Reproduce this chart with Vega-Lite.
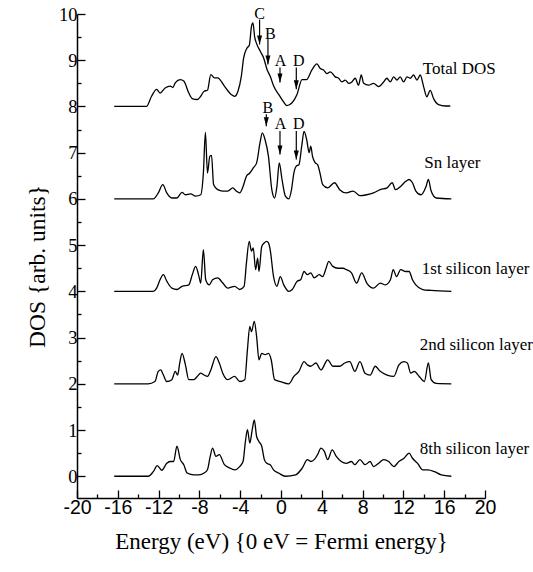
{
  "$schema": "https://vega.github.io/schema/vega-lite/v6.json",
  "width": 408,
  "height": 484,
  "autosize": {"type": "none"},
  "padding": {"left": 77, "top": 14, "right": 48, "bottom": 74},
  "background": "white",
  "config": {
    "view": {"stroke": null},
    "axis": {"grid": false, "domainColor": "black", "tickColor": "black", "labelColor": "black", "titleColor": "black", "titleFontWeight": "normal"}
  },
  "datasets": {
    "dos": [
      {"s":"Total DOS","e":-16.35,"v":8.0},{"s":"Total DOS","e":-13.19,"v":8.0},{"s":"Total DOS","e":-12.69,"v":8.22},{"s":"Total DOS","e":-12.19,"v":8.37},{"s":"Total DOS","e":-11.86,"v":8.29},{"s":"Total DOS","e":-11.36,"v":8.40},{"s":"Total DOS","e":-10.86,"v":8.44},{"s":"Total DOS","e":-10.6,"v":8.41},{"s":"Total DOS","e":-10.37,"v":8.51},{"s":"Total DOS","e":-9.87,"v":8.58},{"s":"Total DOS","e":-9.53,"v":8.55},{"s":"Total DOS","e":-9.04,"v":8.29},{"s":"Total DOS","e":-8.70,"v":8.17},{"s":"Total DOS","e":-8.21,"v":8.15},{"s":"Total DOS","e":-7.87,"v":8.22},{"s":"Total DOS","e":-7.54,"v":8.33},{"s":"Total DOS","e":-7.21,"v":8.35},{"s":"Total DOS","e":-6.88,"v":8.69},{"s":"Total DOS","e":-6.54,"v":8.62},{"s":"Total DOS","e":-6.21,"v":8.62},{"s":"Total DOS","e":-5.55,"v":8.44},{"s":"Total DOS","e":-4.88,"v":8.26},{"s":"Total DOS","e":-4.55,"v":8.22},{"s":"Total DOS","e":-4.22,"v":8.33},{"s":"Total DOS","e":-3.89,"v":8.65},{"s":"Total DOS","e":-3.67,"v":9.04},{"s":"Total DOS","e":-3.34,"v":9.26},{"s":"Total DOS","e":-3.1,"v":9.33},{"s":"Total DOS","e":-2.89,"v":9.74},{"s":"Total DOS","e":-2.75,"v":9.81},{"s":"Total DOS","e":-2.58,"v":9.5},{"s":"Total DOS","e":-2.41,"v":9.37},{"s":"Total DOS","e":-2.02,"v":9.19},{"s":"Total DOS","e":-1.7,"v":9.05},{"s":"Total DOS","e":-1.37,"v":8.8},{"s":"Total DOS","e":-1.05,"v":8.65},{"s":"Total DOS","e":-0.72,"v":8.44},{"s":"Total DOS","e":-0.23,"v":8.26},{"s":"Total DOS","e":0.10,"v":8.15},{"s":"Total DOS","e":0.59,"v":8.02},{"s":"Total DOS","e":1.08,"v":8.08},{"s":"Total DOS","e":1.57,"v":8.26},{"s":"Total DOS","e":2.06,"v":8.58},{"s":"Total DOS","e":2.5,"v":8.58},{"s":"Total DOS","e":3.03,"v":8.79},{"s":"Total DOS","e":3.52,"v":8.92},{"s":"Total DOS","e":3.85,"v":8.82},{"s":"Total DOS","e":4.17,"v":8.79},{"s":"Total DOS","e":4.5,"v":8.71},{"s":"Total DOS","e":4.83,"v":8.75},{"s":"Total DOS","e":5.32,"v":8.64},{"s":"Total DOS","e":5.65,"v":8.61},{"s":"Total DOS","e":5.97,"v":8.53},{"s":"Total DOS","e":6.3,"v":8.57},{"s":"Total DOS","e":6.63,"v":8.5},{"s":"Total DOS","e":6.95,"v":8.53},{"s":"Total DOS","e":7.28,"v":8.61},{"s":"Total DOS","e":7.6,"v":8.46},{"s":"Total DOS","e":7.87,"v":8.68},{"s":"Total DOS","e":8.1,"v":8.5},{"s":"Total DOS","e":8.59,"v":8.46},{"s":"Total DOS","e":9.08,"v":8.5},{"s":"Total DOS","e":9.57,"v":8.43},{"s":"Total DOS","e":10.06,"v":8.53},{"s":"Total DOS","e":10.38,"v":8.61},{"s":"Total DOS","e":10.71,"v":8.53},{"s":"Total DOS","e":11.04,"v":8.64},{"s":"Total DOS","e":11.37,"v":8.57},{"s":"Total DOS","e":11.69,"v":8.64},{"s":"Total DOS","e":12.02,"v":8.53},{"s":"Total DOS","e":12.35,"v":8.64},{"s":"Total DOS","e":12.67,"v":8.61},{"s":"Total DOS","e":13.0,"v":8.68},{"s":"Total DOS","e":13.33,"v":8.57},{"s":"Total DOS","e":13.65,"v":8.68},{"s":"Total DOS","e":13.98,"v":8.43},{"s":"Total DOS","e":14.3,"v":8.21},{"s":"Total DOS","e":14.63,"v":8.35},{"s":"Total DOS","e":14.96,"v":8.17},{"s":"Total DOS","e":15.45,"v":8.04},{"s":"Total DOS","e":16.1,"v":8.01},{"s":"Total DOS","e":16.6,"v":8.01},
      {"s":"Sn","e":-16.35,"v":6.0},{"s":"Sn","e":-12.52,"v":6.0},{"s":"Sn","e":-12.03,"v":6.13},{"s":"Sn","e":-11.59,"v":6.31},{"s":"Sn","e":-11.2,"v":6.13},{"s":"Sn","e":-10.7,"v":6.02},{"s":"Sn","e":-10.2,"v":6.02},{"s":"Sn","e":-9.7,"v":6.14},{"s":"Sn","e":-9.37,"v":6.09},{"s":"Sn","e":-8.87,"v":6.11},{"s":"Sn","e":-8.37,"v":6.06},{"s":"Sn","e":-7.87,"v":6.09},{"s":"Sn","e":-7.61,"v":6.56},{"s":"Sn","e":-7.41,"v":7.44},{"s":"Sn","e":-7.21,"v":6.56},{"s":"Sn","e":-6.98,"v":6.92},{"s":"Sn","e":-6.81,"v":6.94},{"s":"Sn","e":-6.61,"v":6.31},{"s":"Sn","e":-6.21,"v":6.2},{"s":"Sn","e":-5.71,"v":6.17},{"s":"Sn","e":-5.22,"v":6.17},{"s":"Sn","e":-4.72,"v":6.24},{"s":"Sn","e":-4.39,"v":6.17},{"s":"Sn","e":-4.05,"v":6.13},{"s":"Sn","e":-3.72,"v":6.27},{"s":"Sn","e":-3.39,"v":6.49},{"s":"Sn","e":-3.06,"v":6.56},{"s":"Sn","e":-2.72,"v":6.67},{"s":"Sn","e":-2.39,"v":6.78},{"s":"Sn","e":-2.06,"v":7.21},{"s":"Sn","e":-1.83,"v":7.43},{"s":"Sn","e":-1.56,"v":7.28},{"s":"Sn","e":-1.23,"v":6.92},{"s":"Sn","e":-0.9,"v":6.2},{"s":"Sn","e":-0.63,"v":6.02},{"s":"Sn","e":-0.4,"v":6.27},{"s":"Sn","e":-0.17,"v":6.78},{"s":"Sn","e":0.1,"v":6.42},{"s":"Sn","e":0.43,"v":6.06},{"s":"Sn","e":0.76,"v":6.0},{"s":"Sn","e":1.03,"v":6.2},{"s":"Sn","e":1.26,"v":6.56},{"s":"Sn","e":1.5,"v":6.71},{"s":"Sn","e":1.76,"v":6.74},{"s":"Sn","e":2.03,"v":7.14},{"s":"Sn","e":2.26,"v":7.46},{"s":"Sn","e":2.52,"v":7.28},{"s":"Sn","e":2.76,"v":7.0},{"s":"Sn","e":2.92,"v":7.14},{"s":"Sn","e":3.09,"v":6.92},{"s":"Sn","e":3.36,"v":6.78},{"s":"Sn","e":3.59,"v":6.74},{"s":"Sn","e":3.82,"v":6.56},{"s":"Sn","e":4.09,"v":6.31},{"s":"Sn","e":4.58,"v":6.24},{"s":"Sn","e":5.25,"v":6.35},{"s":"Sn","e":5.75,"v":6.2},{"s":"Sn","e":6.41,"v":6.13},{"s":"Sn","e":7.08,"v":6.17},{"s":"Sn","e":7.74,"v":6.07},{"s":"Sn","e":8.41,"v":6.09},{"s":"Sn","e":9.07,"v":6.13},{"s":"Sn","e":9.73,"v":6.2},{"s":"Sn","e":10.4,"v":6.24},{"s":"Sn","e":10.9,"v":6.35},{"s":"Sn","e":11.23,"v":6.2},{"s":"Sn","e":11.73,"v":6.27},{"s":"Sn","e":12.23,"v":6.38},{"s":"Sn","e":12.56,"v":6.42},{"s":"Sn","e":12.89,"v":6.35},{"s":"Sn","e":13.22,"v":6.17},{"s":"Sn","e":13.72,"v":6.09},{"s":"Sn","e":14.22,"v":6.27},{"s":"Sn","e":14.45,"v":6.42},{"s":"Sn","e":14.72,"v":6.17},{"s":"Sn","e":15.22,"v":6.02},{"s":"Sn","e":16.7,"v":6.0},
      {"s":"Si1","e":-16.35,"v":4.0},{"s":"Si1","e":-12.52,"v":4.0},{"s":"Si1","e":-12.19,"v":4.07},{"s":"Si1","e":-11.86,"v":4.25},{"s":"Si1","e":-11.53,"v":4.36},{"s":"Si1","e":-11.2,"v":4.22},{"s":"Si1","e":-10.7,"v":4.07},{"s":"Si1","e":-10.2,"v":4.04},{"s":"Si1","e":-9.7,"v":4.11},{"s":"Si1","e":-9.04,"v":4.14},{"s":"Si1","e":-8.7,"v":4.36},{"s":"Si1","e":-8.37,"v":4.54},{"s":"Si1","e":-8.04,"v":4.32},{"s":"Si1","e":-7.87,"v":4.18},{"s":"Si1","e":-7.61,"v":4.9},{"s":"Si1","e":-7.38,"v":4.25},{"s":"Si1","e":-7.04,"v":4.14},{"s":"Si1","e":-6.71,"v":4.25},{"s":"Si1","e":-6.21,"v":4.29},{"s":"Si1","e":-5.71,"v":4.18},{"s":"Si1","e":-5.22,"v":4.07},{"s":"Si1","e":-4.55,"v":4.11},{"s":"Si1","e":-4.05,"v":4.04},{"s":"Si1","e":-3.62,"v":4.11},{"s":"Si1","e":-3.39,"v":4.61},{"s":"Si1","e":-3.12,"v":5.08},{"s":"Si1","e":-2.89,"v":4.87},{"s":"Si1","e":-2.72,"v":4.94},{"s":"Si1","e":-2.49,"v":4.47},{"s":"Si1","e":-2.29,"v":4.72},{"s":"Si1","e":-2.16,"v":4.43},{"s":"Si1","e":-1.89,"v":4.97},{"s":"Si1","e":-1.63,"v":5.05},{"s":"Si1","e":-1.4,"v":5.08},{"s":"Si1","e":-1.23,"v":5.05},{"s":"Si1","e":-1.06,"v":4.9},{"s":"Si1","e":-0.73,"v":4.32},{"s":"Si1","e":-0.4,"v":4.11},{"s":"Si1","e":-0.07,"v":4.32},{"s":"Si1","e":0.27,"v":4.14},{"s":"Si1","e":0.76,"v":4.0},{"s":"Si1","e":1.1,"v":4.04},{"s":"Si1","e":1.59,"v":4.22},{"s":"Si1","e":1.93,"v":4.25},{"s":"Si1","e":2.26,"v":4.43},{"s":"Si1","e":2.59,"v":4.36},{"s":"Si1","e":2.92,"v":4.4},{"s":"Si1","e":3.26,"v":4.29},{"s":"Si1","e":3.75,"v":4.36},{"s":"Si1","e":4.09,"v":4.32},{"s":"Si1","e":4.42,"v":4.5},{"s":"Si1","e":4.68,"v":4.65},{"s":"Si1","e":5.08,"v":4.54},{"s":"Si1","e":5.58,"v":4.5},{"s":"Si1","e":6.08,"v":4.5},{"s":"Si1","e":6.41,"v":4.47},{"s":"Si1","e":6.91,"v":4.4},{"s":"Si1","e":7.41,"v":4.18},{"s":"Si1","e":7.91,"v":4.4},{"s":"Si1","e":8.41,"v":4.18},{"s":"Si1","e":9.07,"v":4.07},{"s":"Si1","e":9.73,"v":4.18},{"s":"Si1","e":10.23,"v":4.14},{"s":"Si1","e":10.73,"v":4.25},{"s":"Si1","e":11.0,"v":4.47},{"s":"Si1","e":11.33,"v":4.32},{"s":"Si1","e":11.73,"v":4.47},{"s":"Si1","e":12.23,"v":4.43},{"s":"Si1","e":12.56,"v":4.43},{"s":"Si1","e":12.89,"v":4.25},{"s":"Si1","e":13.22,"v":4.14},{"s":"Si1","e":13.89,"v":4.04},{"s":"Si1","e":14.72,"v":4.02},{"s":"Si1","e":16.7,"v":4.0},
      {"s":"Si2","e":-16.35,"v":2.0},{"s":"Si2","e":-13.02,"v":2.0},{"s":"Si2","e":-12.36,"v":2.05},{"s":"Si2","e":-12.03,"v":2.27},{"s":"Si2","e":-11.79,"v":2.3},{"s":"Si2","e":-11.53,"v":2.19},{"s":"Si2","e":-11.2,"v":2.05},{"s":"Si2","e":-10.7,"v":2.09},{"s":"Si2","e":-10.37,"v":2.27},{"s":"Si2","e":-10.13,"v":2.19},{"s":"Si2","e":-9.93,"v":2.45},{"s":"Si2","e":-9.7,"v":2.66},{"s":"Si2","e":-9.37,"v":2.41},{"s":"Si2","e":-9.04,"v":2.09},{"s":"Si2","e":-8.54,"v":2.09},{"s":"Si2","e":-8.21,"v":2.16},{"s":"Si2","e":-7.87,"v":2.23},{"s":"Si2","e":-7.54,"v":2.19},{"s":"Si2","e":-7.21,"v":2.16},{"s":"Si2","e":-6.88,"v":2.3},{"s":"Si2","e":-6.38,"v":2.59},{"s":"Si2","e":-6.05,"v":2.45},{"s":"Si2","e":-5.71,"v":2.23},{"s":"Si2","e":-5.22,"v":2.09},{"s":"Si2","e":-4.55,"v":2.16},{"s":"Si2","e":-4.05,"v":2.05},{"s":"Si2","e":-3.55,"v":2.09},{"s":"Si2","e":-3.29,"v":2.74},{"s":"Si2","e":-3.06,"v":3.24},{"s":"Si2","e":-2.89,"v":3.13},{"s":"Si2","e":-2.62,"v":3.35},{"s":"Si2","e":-2.39,"v":3.02},{"s":"Si2","e":-2.16,"v":2.52},{"s":"Si2","e":-1.89,"v":2.66},{"s":"Si2","e":-1.56,"v":2.63},{"s":"Si2","e":-1.23,"v":2.66},{"s":"Si2","e":-0.96,"v":2.52},{"s":"Si2","e":-0.63,"v":2.09},{"s":"Si2","e":-0.07,"v":2.05},{"s":"Si2","e":0.76,"v":2.0},{"s":"Si2","e":1.26,"v":2.16},{"s":"Si2","e":1.76,"v":2.27},{"s":"Si2","e":2.26,"v":2.48},{"s":"Si2","e":2.59,"v":2.41},{"s":"Si2","e":2.92,"v":2.38},{"s":"Si2","e":3.42,"v":2.45},{"s":"Si2","e":3.92,"v":2.3},{"s":"Si2","e":4.58,"v":2.52},{"s":"Si2","e":5.08,"v":2.38},{"s":"Si2","e":5.75,"v":2.38},{"s":"Si2","e":6.25,"v":2.45},{"s":"Si2","e":6.74,"v":2.48},{"s":"Si2","e":7.24,"v":2.27},{"s":"Si2","e":7.74,"v":2.48},{"s":"Si2","e":8.24,"v":2.23},{"s":"Si2","e":8.74,"v":2.19},{"s":"Si2","e":9.24,"v":2.38},{"s":"Si2","e":9.73,"v":2.27},{"s":"Si2","e":10.4,"v":2.19},{"s":"Si2","e":11.06,"v":2.16},{"s":"Si2","e":11.56,"v":2.41},{"s":"Si2","e":12.06,"v":2.48},{"s":"Si2","e":12.39,"v":2.45},{"s":"Si2","e":12.72,"v":2.23},{"s":"Si2","e":13.06,"v":2.27},{"s":"Si2","e":13.55,"v":2.16},{"s":"Si2","e":14.05,"v":2.05},{"s":"Si2","e":14.45,"v":2.45},{"s":"Si2","e":14.72,"v":2.09},{"s":"Si2","e":15.22,"v":2.01},{"s":"Si2","e":16.7,"v":2.0},
      {"s":"Si8","e":-16.35,"v":0.0},{"s":"Si8","e":-13.02,"v":0.0},{"s":"Si8","e":-12.52,"v":0.1},{"s":"Si8","e":-12.13,"v":0.23},{"s":"Si8","e":-11.69,"v":0.13},{"s":"Si8","e":-11.2,"v":0.28},{"s":"Si8","e":-10.86,"v":0.32},{"s":"Si8","e":-10.53,"v":0.32},{"s":"Si8","e":-10.2,"v":0.65},{"s":"Si8","e":-9.87,"v":0.36},{"s":"Si8","e":-9.53,"v":0.25},{"s":"Si8","e":-9.2,"v":0.07},{"s":"Si8","e":-8.54,"v":0.03},{"s":"Si8","e":-8.04,"v":0.03},{"s":"Si8","e":-7.54,"v":0.07},{"s":"Si8","e":-7.21,"v":0.14},{"s":"Si8","e":-6.94,"v":0.43},{"s":"Si8","e":-6.71,"v":0.61},{"s":"Si8","e":-6.38,"v":0.43},{"s":"Si8","e":-6.05,"v":0.47},{"s":"Si8","e":-5.55,"v":0.25},{"s":"Si8","e":-5.05,"v":0.18},{"s":"Si8","e":-4.55,"v":0.14},{"s":"Si8","e":-4.05,"v":0.21},{"s":"Si8","e":-3.72,"v":0.32},{"s":"Si8","e":-3.49,"v":0.75},{"s":"Si8","e":-3.29,"v":1.01},{"s":"Si8","e":-3.06,"v":0.72},{"s":"Si8","e":-2.82,"v":1.01},{"s":"Si8","e":-2.62,"v":1.22},{"s":"Si8","e":-2.39,"v":0.86},{"s":"Si8","e":-2.16,"v":0.75},{"s":"Si8","e":-1.89,"v":0.65},{"s":"Si8","e":-1.63,"v":0.36},{"s":"Si8","e":-1.4,"v":0.28},{"s":"Si8","e":-1.06,"v":0.25},{"s":"Si8","e":-0.73,"v":0.14},{"s":"Si8","e":-0.23,"v":0.07},{"s":"Si8","e":0.43,"v":0.0},{"s":"Si8","e":1.43,"v":0.03},{"s":"Si8","e":2.09,"v":0.18},{"s":"Si8","e":2.59,"v":0.36},{"s":"Si8","e":2.92,"v":0.32},{"s":"Si8","e":3.26,"v":0.36},{"s":"Si8","e":3.59,"v":0.47},{"s":"Si8","e":3.92,"v":0.61},{"s":"Si8","e":4.25,"v":0.54},{"s":"Si8","e":4.58,"v":0.36},{"s":"Si8","e":5.02,"v":0.57},{"s":"Si8","e":5.42,"v":0.43},{"s":"Si8","e":5.91,"v":0.32},{"s":"Si8","e":6.41,"v":0.28},{"s":"Si8","e":6.91,"v":0.32},{"s":"Si8","e":7.24,"v":0.25},{"s":"Si8","e":7.74,"v":0.36},{"s":"Si8","e":8.24,"v":0.25},{"s":"Si8","e":8.74,"v":0.32},{"s":"Si8","e":9.07,"v":0.21},{"s":"Si8","e":9.57,"v":0.28},{"s":"Si8","e":10.07,"v":0.36},{"s":"Si8","e":10.56,"v":0.32},{"s":"Si8","e":11.06,"v":0.21},{"s":"Si8","e":11.56,"v":0.32},{"s":"Si8","e":12.06,"v":0.39},{"s":"Si8","e":12.56,"v":0.5},{"s":"Si8","e":12.89,"v":0.39},{"s":"Si8","e":13.39,"v":0.28},{"s":"Si8","e":13.89,"v":0.14},{"s":"Si8","e":14.39,"v":0.14},{"s":"Si8","e":15.05,"v":0.1},{"s":"Si8","e":15.71,"v":0.03},{"s":"Si8","e":16.7,"v":0.0}
    ],
    "arrows": [
      {"letter":"C","e":-2.1,"top":9.88,"tip":9.34,"lx":-2.1,"ly":9.99},
      {"letter":"B","e":-1.28,"top":9.47,"tip":8.91,"lx":-1.05,"ly":9.56},
      {"letter":"A","e":-0.1,"top":8.84,"tip":8.52,"lx":-0.05,"ly":8.98},
      {"letter":"D","e":1.5,"top":8.84,"tip":8.37,"lx":1.75,"ly":8.98},
      {"letter":"B","e":-1.44,"top":7.83,"tip":7.57,"lx":-1.3,"ly":7.97},
      {"letter":"A","e":-0.1,"top":7.47,"tip":6.96,"lx":-0.05,"ly":7.61},
      {"letter":"D","e":1.5,"top":7.47,"tip":6.85,"lx":1.75,"ly":7.61}
    ],
    "labels": [
      {"label":"Total DOS","e":13.9,"v":8.8},
      {"label":"Sn layer","e":14.05,"v":6.77},
      {"label":"1st silicon layer","e":13.8,"v":4.48},
      {"label":"2nd silicon layer","e":13.6,"v":2.85},
      {"label":"8th silicon layer","e":13.6,"v":0.6}
    ]
  },
  "resolve": {"axis": {"x": "independent", "y": "independent"}},
  "layer": [
    {
      "data": {"name": "dos"},
      "mark": {"type": "line", "color": "black", "strokeWidth": 1.3, "interpolate": "monotone"},
      "encoding": {
        "x": {"field": "e", "type": "quantitative", "scale": {"domain": [-20, 20], "nice": false, "zero": false},
          "axis": {"values": [-20,-16,-12,-8,-4,0,4,8,12,16,20], "labelExpr": "toString(datum.value)", "tickSize": -8, "tickWidth": 1.3, "domainWidth": 1.5,
            "labelFont": "Liberation Sans", "labelFontSize": 19.5, "labelPadding": 8, "labelFlush": false,
            "title": "Energy (eV) {0 eV = Fermi energy}", "titleFont": "Liberation Serif", "titleFontSize": 23, "titlePadding": 14}},
        "y": {"field": "v", "type": "quantitative", "scale": {"domain": [-0.47, 10], "nice": false, "zero": false},
          "axis": {"values": [0,1,2,3,4,5,6,7,8,9,10], "labelExpr": "toString(datum.value)", "tickSize": -8, "tickWidth": 1.3, "domainWidth": 1.5,
            "labelFont": "Liberation Serif", "labelFontSize": 18.5, "labelPadding": 8, "labelFlush": false,
            "title": "DOS  {arb. units}", "titleFont": "Liberation Serif", "titleFontSize": 23.5, "titlePadding": 9, "titleY": 252}},
        "detail": {"field": "s"}
      }
    },
    {
      "data": {"name": "arrows"},
      "mark": {"type": "rule", "color": "black", "strokeWidth": 1.2},
      "encoding": {
        "x": {"field": "e", "type": "quantitative", "scale": {"domain": [-20, 20], "nice": false, "zero": false},
          "axis": {"orient": "bottom", "values": [-18,-14,-10,-6,-2,2,6,10,14,18], "tickSize": -4, "tickWidth": 1.3, "labels": false, "domain": false, "title": null}},
        "y": {"field": "top", "type": "quantitative", "scale": {"domain": [-0.47, 10], "nice": false, "zero": false},
          "axis": {"orient": "left", "values": [0.5,1.5,2.5,3.5,4.5,5.5,6.5,7.5,8.5,9.5], "tickSize": -4, "tickWidth": 1.3, "labels": false, "domain": false, "title": null}},
        "y2": {"field": "tip"}
      }
    },
    {
      "data": {"name": "arrows"},
      "mark": {"type": "point", "shape": "M-0.5,-1.8L0.5,-1.8L0,0Z", "size": 100, "filled": true, "color": "black", "opacity": 1},
      "encoding": {
        "x": {"field": "e", "type": "quantitative", "scale": {"domain": [-20, 20], "nice": false, "zero": false}, "axis": null},
        "y": {"field": "tip", "type": "quantitative", "scale": {"domain": [-0.47, 10], "nice": false, "zero": false}, "axis": null}
      }
    },
    {
      "data": {"name": "arrows"},
      "mark": {"type": "text", "font": "Liberation Serif", "fontSize": 16, "color": "black", "align": "center", "baseline": "middle"},
      "encoding": {
        "x": {"field": "lx", "type": "quantitative", "scale": {"domain": [-20, 20], "nice": false, "zero": false}, "axis": null},
        "y": {"field": "ly", "type": "quantitative", "scale": {"domain": [-0.47, 10], "nice": false, "zero": false}, "axis": null},
        "text": {"field": "letter"}
      }
    },
    {
      "data": {"name": "labels"},
      "mark": {"type": "text", "font": "Liberation Serif", "fontSize": 17, "color": "black", "align": "left", "baseline": "middle"},
      "encoding": {
        "x": {"field": "e", "type": "quantitative", "scale": {"domain": [-20, 20], "nice": false, "zero": false}, "axis": null},
        "y": {"field": "v", "type": "quantitative", "scale": {"domain": [-0.47, 10], "nice": false, "zero": false}, "axis": null},
        "text": {"field": "label"}
      }
    }
  ]
}
